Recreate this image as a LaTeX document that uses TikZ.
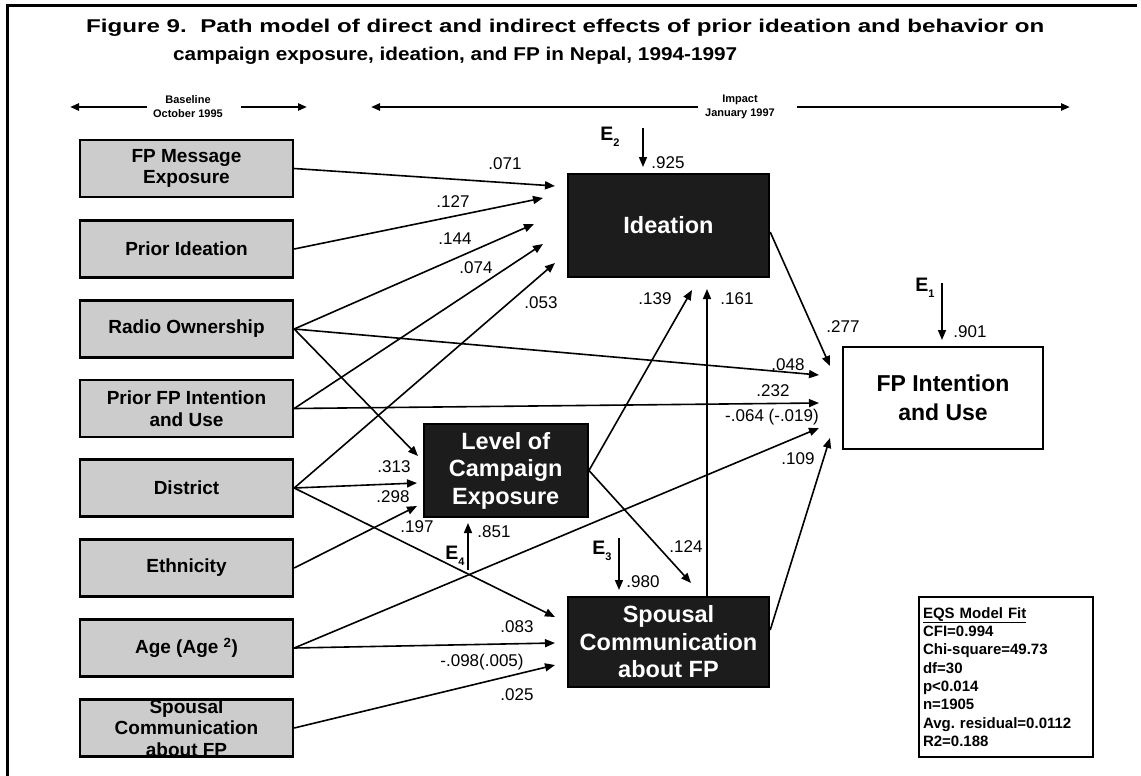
\documentclass[tikz,border=0pt]{standalone}
\usepackage{fontspec}
\usepackage{graphicx}
\setmainfont{Liberation Sans}
\usetikzlibrary{arrows.meta,calc}
\definecolor{boxgray}{RGB}{204,204,204}
\definecolor{darkbox}{RGB}{28,28,28}
\begin{document}
\begin{tikzpicture}[x=1pt,y=-1pt,
  lbox/.style={draw,line width=2.4pt,fill=boxgray,minimum width=213pt,minimum height=57pt,inner sep=0pt,align=center,font=\fontsize{19}{21.5}\selectfont\bfseries},
  ltext/.style={inner sep=0pt,align=center,font=\fontsize{19}{21.5}\selectfont\bfseries},
  dbox/.style={draw,line width=2.4pt,fill=darkbox,text=white,inner sep=0pt,align=center,font=\fontsize{23.5}{27.5}\selectfont\bfseries},
  wbox/.style={draw,line width=2.4pt,fill=white,inner sep=0pt,align=center,font=\fontsize{23}{29}\selectfont\bfseries},
  arr/.style={line width=1.6pt,-{Triangle[length=10pt,width=8pt]}},
  harr/.style={line width=2.4pt,-{Triangle[length=9pt,width=7pt]}},
  lab/.style={font=\fontsize{17}{17}\selectfont,inner sep=0pt},
  elab/.style={font=\fontsize{19.5}{19.5}\selectfont\bfseries,inner sep=0pt},
  hdr/.style={font=\fontsize{11}{14}\selectfont\bfseries,align=center,inner sep=0pt},
  ttl/.style={anchor=base west,inner sep=0pt,font=\fontsize{18.5}{18.5}\selectfont\bfseries},
]
\useasboundingbox (0,0) rectangle (1141,776);
% frame
\draw[line width=3pt] (7.5,776) -- (7.5,5.5) -- (1137,5.5);
% title
\node[ttl] (title1) at (86,32.7) {\resizebox{958pt}{\height}{Figure 9.\ \ Path model of direct and indirect effects of prior ideation and behavior on}};
\node[ttl] (title2) at (173,60) {\resizebox{564pt}{\height}{campaign exposure, ideation, and FP in Nepal, 1994-1997}};
% header
\node[hdr] (base) at (188,107) {Baseline\\October 1995};
\node[hdr] (imp) at (740,107) {Impact\\January 1997};
\coordinate (bl) at (70,107);
\coordinate (br) at (307,107);
\coordinate (il) at (371,107);
\coordinate (ir) at (1070,107);
\draw[harr,shorten <=6pt] (base.west) -- (bl);
\draw[harr,shorten <=18pt] (base.east) -- (br);
\draw[harr,shorten <=7pt] (imp.west) -- (il);
\draw[harr,shorten <=22pt] (imp.east) -- (ir);
% left boxes
\node[lbox] (fpm) at (186.5,168.5) {FP Message\\Exposure};
\node[lbox] (pid) at (186.5,249) {Prior Ideation};
\node[lbox] (rad) at (186.5,329) {Radio Ownership};
\node[lbox] (pfp) at (186.5,408.5) {Prior FP Intention\\and Use};
\node[lbox] (dis) at (186.5,488) {District};
\node[lbox] (eth) at (186.5,568) {Ethnicity};
\node[lbox] (age) at (186.5,648) {Age (Age \textsuperscript{2})};
\node[lbox] (spl) at (186.5,728) {};
\node[ltext] (spltext) at (spl.center) {Spousal\\Communication\\about FP};
% central boxes
\node[dbox,minimum width=201pt,minimum height=103pt] (ide) at (668.5,225.5) {Ideation};
\node[dbox,minimum width=164pt,minimum height=93pt] (lev) at (505.75,470.5) {Level of\\Campaign\\Exposure};
\node[dbox,minimum width=201pt,minimum height=90pt] (spc) at (668.5,642) {Spousal\\Communication\\about FP};
\node[wbox,minimum width=200pt,minimum height=102pt] (fpi) at (943,398) {FP Intention\\and Use};
% fit box
\node[draw,line width=2.2pt,minimum width=174pt,minimum height=160pt,text width=166pt,inner xsep=4pt,inner ysep=0pt,align=left,font=\fontsize{15}{18.3}\selectfont\bfseries] (eqs) at (1006,677) {\underline{EQS Model Fit}\\CFI=0.994\\Chi-square=49.73\\df=30\\p<0.014\\n=1905\\Avg.\ residual=0.0112\\R2=0.188};
% arrow tips
\coordinate (t1) at (555,186);
\coordinate (t2) at (543,198);
\coordinate (t3) at (534,224);
\coordinate (t4) at (543,244);
\coordinate (t5) at (555,263);
\coordinate (t6) at (418,456);
\coordinate (t7) at (417,483);
\coordinate (t8) at (417,506);
\coordinate (t9) at (555,617);
\coordinate (t10) at (819,428);
\coordinate (t11) at (555,643);
\coordinate (t12) at (555,665);
\coordinate (t13) at (819,375);
\coordinate (t14) at (819,403);
\coordinate (t15) at (830,366);
\coordinate (t16) at (830,438);
\coordinate (t17) at (692,290);
\coordinate (t18) at (691,583);
\coordinate (t19) at (707,289);
% connectors
\draw[arr] (fpm.east) -- (t1);
\draw[arr] (pid.east) -- (t2);
\draw[arr] (rad.east) -- (t3);
\draw[arr] (pfp.east) -- (t4);
\draw[arr] (dis.east) -- (t5);
\draw[arr] (rad.east) -- (t6);
\draw[arr] (dis.east) -- (t7);
\draw[arr] (eth.east) -- (t8);
\draw[arr] (dis.east) -- (t9);
\draw[arr] (age.east) -- (t10);
\draw[arr] (age.east) -- (t11);
\draw[arr] (spl.east) -- (t12);
\draw[arr] (rad.east) -- (t13);
\draw[arr] (pfp.east) -- (t14);
\draw[arr] ($(ide.east)+(0,6.5)$) -- (t15);
\draw[arr] ($(spc.east)+(0,-12)$) -- (t16);
\draw[arr] (lev.east) -- (t17);
\draw[arr] (lev.east) -- (t18);
\draw[arr] ($(spc.north)+(38.5,0)$) -- (t19);
% error terms
\node[elab] (e2) at (610,137) {E\raisebox{-6pt}{\fontsize{11}{11}\selectfont 2}};
\node[elab] (e1) at (925,288) {E\raisebox{-6pt}{\fontsize{11}{11}\selectfont 1}};
\node[elab] (e4) at (455,556) {E\raisebox{-6pt}{\fontsize{11}{11}\selectfont 4}};
\node[elab] (e3) at (602,551) {E\raisebox{-6pt}{\fontsize{11}{11}\selectfont 3}};
\coordinate (e2s) at (643,128); \coordinate (e2t) at (643,167);
\coordinate (e1s) at (942,283); \coordinate (e1t) at (942,340);
\coordinate (e4s) at (468,570); \coordinate (e4t) at (468,523);
\coordinate (e3s) at (619,538); \coordinate (e3t) at (619,590);
\draw[arr] (e2s) -- (e2t);
\draw[arr] (e1s) -- (e1t);
\draw[arr] (e4s) -- (e4t);
\draw[arr] (e3s) -- (e3t);
% labels
\node[lab] at (505,164) {.071};
\node[lab] at (453,202) {.127};
\node[lab] at (455,239) {.144};
\node[lab] at (476,268) {.074};
\node[lab] at (541,303) {.053};
\node[lab] at (394,467) {.313};
\node[lab] at (393,497) {.298};
\node[lab] at (417,527) {.197};
\node[lab] at (772,417) {-.064 (-.019)};
\node[lab] at (517,627) {.083};
\node[lab] at (482,662) {-.098(.005)};
\node[lab] at (517,695) {.025};
\node[lab] at (788,365) {.048};
\node[lab] at (773,391) {.232};
\node[lab] at (843,327) {.277};
\node[lab] at (798,459) {.109};
\node[lab] at (655,299) {.139};
\node[lab] at (686,547) {.124};
\node[lab] at (737,299) {.161};
\node[lab] at (668,163) {.925};
\node[lab] at (970,332) {.901};
\node[lab] at (494,532) {.851};
\node[lab] at (643,582) {.980};
\end{tikzpicture}
\end{document}
